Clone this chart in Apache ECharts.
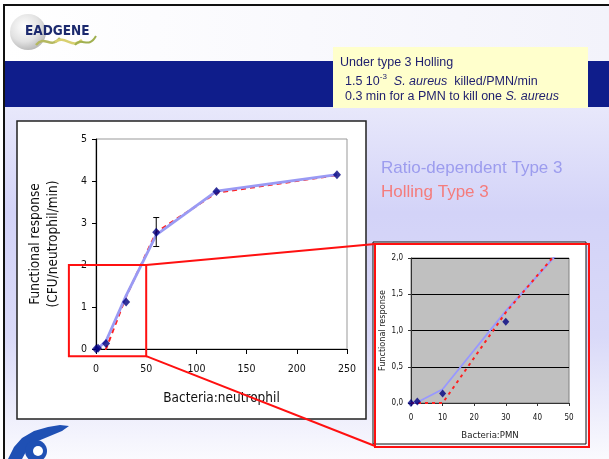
<!DOCTYPE html>
<html><head><meta charset="utf-8">
<script src="https://cdn.jsdelivr.net/npm/echarts@6/dist/echarts.min.js"></script>
<style>html,body{margin:0;padding:0;background:#fff}#c{width:609px;height:459px}</style>
</head><body><div id="c"></div>
<script>
// ---- data ----
const obsX = [0, 2, 10, 30, 60, 120, 240];
const obsY = [0, 0.02, 0.13, 1.12, 2.78, 3.75, 4.15];
const errX = [60];
const errLow = [2.44];
const errHigh = [3.13];
const ratioX = [0, 2, 10, 30, 60, 120, 240];
const ratioY = [0, 0.01, 0.19, 1.27, 2.72, 3.76, 4.15];
const hollX = [0, 2, 10, 30, 60, 120, 240];
const hollY = [0, 0, 0, 1.25, 2.78, 3.72, 4.14];
const mainXTicks = [0, 50, 100, 150, 200, 250];
const mainYTicks = [0, 1, 2, 3, 4, 5];
const insetXTicks = [0, 10, 20, 30, 40, 50];
const insetYTicks = ['0,0', '0,5', '1,0', '1,5', '2,0'];
const legendNames = ['Ratio-dependent Type 3', 'Holling Type 3'];
const zoomBoxX = [-27, 50];
const zoomBoxY = [-0.17, 2];

const FONT = '"DejaVu Sans Condensed", "DejaVu Sans", sans-serif';
const ARIAL = '"Liberation Sans", Arial, sans-serif';
const BLUE = '#9a9af4';
const RED = '#ff2020';
const NAVY = '#000080';

const pairs = (xs, ys) => xs.map((x, i) => [x, ys[i]]);
const step = a => a[1] - a[0];

const chart = echarts.init(document.getElementById('c'), null, {renderer: 'canvas'});

const bg = [
  {type: 'rect', z: -100, shape: {x: 0, y: 0, width: 609, height: 459}, style: {fill: '#ffffff'}},
  {type: 'rect', z: -99, shape: {x: 5, y: 6, width: 604, height: 56},
    style: {fill: new echarts.graphic.LinearGradient(0, 0, 1, 0, [{offset: 0, color: '#ffffff'}, {offset: 1, color: '#f3f3fb'}])}},
  {type: 'rect', z: -99, shape: {x: 5, y: 107, width: 604, height: 352},
    style: {fill: new echarts.graphic.LinearGradient(0, 0, 0, 1, [
      {offset: 0, color: '#e8e8fb'}, {offset: 0.3, color: '#d3d3f8'},
      {offset: 0.65, color: '#d9d9f8'}, {offset: 1, color: '#fafafe'}])}},
  {type: 'rect', z: -98, shape: {x: 5, y: 61, width: 604, height: 46}, style: {fill: '#0f1d8b'}},
  {type: 'rect', z: -98, shape: {x: 3, y: 4, width: 606, height: 2}, style: {fill: '#111'}},
  {type: 'rect', z: -98, shape: {x: 3, y: 4, width: 2, height: 455}, style: {fill: '#111'}},
  // yellow note
  {type: 'rect', z: -97, shape: {x: 333, y: 47, width: 255, height: 61}, style: {fill: '#ffffcc'}},
  {type: 'text', z: 10, x: 340, y: 56, style: {text: 'Under type 3 Holling', font: '12.5px ' + ARIAL, fill: '#1e1e6e'}},
  {type: 'text', z: 10, x: 345, y: 73, style: {
    text: '{n|1.5 10}{s|-3}{n|  }{i|S. aureus}{n|  killed/PMN/min}',
    rich: {n: {fontFamily: ARIAL, fontSize: 12.5, fill: '#1e1e6e', verticalAlign: 'bottom', lineHeight: 15},
           s: {fontFamily: ARIAL, fontSize: 8, fill: '#1e1e6e', verticalAlign: 'top', lineHeight: 15},
           i: {fontFamily: ARIAL, fontSize: 12.5, fontStyle: 'italic', fill: '#1e1e6e', verticalAlign: 'bottom', lineHeight: 15}}}},
  {type: 'text', z: 10, x: 345, y: 90, style: {
    text: '{n|0.3 min for a PMN to kill one }{i|S. aureus}',
    rich: {n: {fontFamily: ARIAL, fontSize: 12.5, fill: '#1e1e6e'}, i: {fontFamily: ARIAL, fontSize: 12.5, fontStyle: 'italic', fill: '#1e1e6e'}}}},
  // EADGENE logo
  {type: 'circle', z: -96, shape: {cx: 28, cy: 32, r: 18},
    style: {fill: new echarts.graphic.RadialGradient(0.4, 0.35, 0.7, [{offset: 0, color: '#ffffff'}, {offset: 0.6, color: '#e2e2e2'}, {offset: 1, color: '#b4b4b4'}])}},
  {type: 'bezierCurve', z: -95, shape: {x1: 36, y1: 45, x2: 60, y2: 38, cpx1: 45, cpy1: 34, cpx2: 50, cpy2: 50}, style: {stroke: '#b4b860', lineWidth: 2.5, fill: null}},
  {type: 'bezierCurve', z: -95, shape: {x1: 55, y1: 42, x2: 82, y2: 40, cpx1: 65, cpy1: 34, cpx2: 72, cpy2: 50}, style: {stroke: '#d8d070', lineWidth: 2.5, fill: null}},
  {type: 'bezierCurve', z: -95, shape: {x1: 75, y1: 45, x2: 96, y2: 36, cpx1: 82, cpy1: 36, cpx2: 88, cpy2: 50}, style: {stroke: '#a0b050', lineWidth: 2, fill: null}},
  {type: 'text', z: -94, x: 25, y: 24, style: {text: 'EADGENE', font: 'bold 13.5px ' + FONT, fill: '#1c2a6e'}},
  // bottom-left logo
  {type: 'polygon', z: -95, shape: {points: [[8, 459], [14, 447], [22, 438], [34, 431], [48, 427], [60, 425], [69, 426], [62, 431], [50, 436], [38, 441], [28, 448], [22, 459]]}, style: {fill: '#1f50b4'}},
  {type: 'circle', z: -95, shape: {cx: 36, cy: 451, r: 11}, style: {fill: '#1f50b4'}},
  {type: 'circle', z: -94, shape: {cx: 38, cy: 451, r: 5}, style: {fill: '#ffffff'}},
  // main panel
  {type: 'rect', z: -90, shape: {x: 17, y: 121, width: 349, height: 298}, style: {fill: '#ffffff', stroke: '#222', lineWidth: 1.5}},
  // inset panel
  {type: 'rect', z: -90, shape: {x: 373, y: 242, width: 213, height: 202}, style: {fill: '#ffffff', stroke: '#111', lineWidth: 1}},
  // legend texts
  {type: 'text', z: 10, x: 381, y: 160, style: {text: legendNames[0], font: '17px ' + ARIAL, fill: '#9c9cee'}},
  {type: 'text', z: 10, x: 381, y: 184, style: {text: legendNames[1], font: '17px ' + ARIAL, fill: '#f47c7c'}}
];

const axisLbl = (size) => ({fontFamily: FONT, fontSize: size, color: '#111'});

const option = {
  animation: false,
  grid: [
    {left: 96, top: 139, width: 251, height: 210, show: true, borderColor: '#999', borderWidth: 1, backgroundColor: 'transparent'},
    {left: 411, top: 258, width: 158, height: 145, show: true, borderColor: '#808080', borderWidth: 1, backgroundColor: '#c0c0c0'}
  ],
  xAxis: [
    {gridIndex: 0, type: 'value', min: mainXTicks[0], max: mainXTicks[mainXTicks.length - 1], interval: step(mainXTicks),
      name: 'Bacteria:neutrophil', nameLocation: 'middle', nameGap: 42,
      nameTextStyle: {fontFamily: FONT, fontSize: 13.5, color: '#111'},
      axisLine: {onZero: false, lineStyle: {color: '#000', width: 1}},
      axisTick: {show: true, length: 5, lineStyle: {color: '#000'}},
      axisLabel: Object.assign({margin: 15}, axisLbl(10.5)), splitLine: {show: false}},
    {gridIndex: 1, type: 'value', min: insetXTicks[0], max: insetXTicks[insetXTicks.length - 1], interval: step(insetXTicks),
      name: 'Bacteria:PMN', nameLocation: 'middle', nameGap: 28,
      nameTextStyle: {fontFamily: FONT, fontSize: 9.5, color: '#222'},
      axisLine: {onZero: false, lineStyle: {color: '#333', width: 1}},
      axisTick: {show: true, length: 3, lineStyle: {color: '#333'}},
      axisLabel: Object.assign({margin: 11}, axisLbl(8)), splitLine: {show: false}}
  ],
  yAxis: [
    {gridIndex: 0, type: 'value', min: mainYTicks[0], max: mainYTicks[mainYTicks.length - 1], interval: step(mainYTicks),
      name: 'Functional response\n(CFU/neutrophil/min)', nameLocation: 'middle', nameGap: 34, nameRotate: 90,
      nameTextStyle: {fontFamily: FONT, fontSize: 13.5, color: '#111', lineHeight: 18, align: 'center'},
      axisLine: {show: true, onZero: false, lineStyle: {color: '#000', width: 1.2}},
      axisTick: {show: true, length: 4, lineStyle: {color: '#000'}},
      axisLabel: Object.assign({margin: 9}, axisLbl(10.5)), splitLine: {show: false}},
    {gridIndex: 1, type: 'value', min: 0, max: 2, interval: 0.5,
      name: 'Functional response', nameLocation: 'middle', nameGap: 24, nameRotate: 90,
      nameTextStyle: {fontFamily: FONT, fontSize: 9, color: '#222'},
      axisLine: {show: true, onZero: false, lineStyle: {color: '#333', width: 1}},
      axisTick: {show: true, length: 3, lineStyle: {color: '#333'}},
      axisLabel: Object.assign({margin: 8, formatter: v => insetYTicks[Math.round(v / 0.5)]}, axisLbl(8)),
      splitLine: {show: true, lineStyle: {color: '#000', width: 1}}}
  ],
  series: [
    {type: 'line', name: legendNames[1], xAxisIndex: 0, yAxisIndex: 0, data: pairs(hollX, hollY), clip: false,
      symbol: 'none', lineStyle: {color: RED, width: 2, type: [5, 4]}, z: 2},
    {type: 'line', name: legendNames[0], xAxisIndex: 0, yAxisIndex: 0, data: pairs(ratioX, ratioY), clip: false,
      symbol: 'none', lineStyle: {color: BLUE, width: 2.8}, z: 3},
    {type: 'custom', xAxisIndex: 0, yAxisIndex: 0, z: 4,
      data: errX.map((x, i) => [x, errLow[i], errHigh[i]]),
      encode: {x: 0, y: [1, 2]},
      renderItem: (params, api) => {
        const lo = api.coord([api.value(0), api.value(1)]);
        const hi = api.coord([api.value(0), api.value(2)]);
        const w = 3;
        const st = {stroke: '#000', lineWidth: 1};
        return {type: 'group', children: [
          {type: 'line', shape: {x1: lo[0], y1: lo[1], x2: hi[0], y2: hi[1]}, style: st},
          {type: 'line', shape: {x1: lo[0] - w, y1: lo[1], x2: lo[0] + w, y2: lo[1]}, style: st},
          {type: 'line', shape: {x1: hi[0] - w, y1: hi[1], x2: hi[0] + w, y2: hi[1]}, style: st}
        ]};
      }},
    {type: 'scatter', xAxisIndex: 0, yAxisIndex: 0, data: pairs(obsX, obsY), symbol: 'diamond', symbolSize: [8, 9],
      itemStyle: {color: NAVY}, clip: false, z: 5},
    {type: 'line', xAxisIndex: 1, yAxisIndex: 1, data: pairs(ratioX, ratioY), clip: true,
      symbol: 'none', lineStyle: {color: '#9898ff', width: 1.8}, z: 2},
    {type: 'line', xAxisIndex: 1, yAxisIndex: 1, data: pairs(hollX, hollY), clip: true,
      symbol: 'none', lineStyle: {color: RED, width: 2, type: [3, 4]}, z: 3},
    {type: 'scatter', xAxisIndex: 1, yAxisIndex: 1, data: pairs(obsX, obsY), symbol: 'diamond', symbolSize: [7, 8],
      itemStyle: {color: NAVY}, clip: true, z: 5}
  ],
  graphic: {elements: bg}
};
chart.setOption(option);

// zoom indicator built from data coordinates of the main grid
const p0 = chart.convertToPixel({gridIndex: 0}, [zoomBoxX[0], zoomBoxY[1]]);
const p1 = chart.convertToPixel({gridIndex: 0}, [zoomBoxX[1], zoomBoxY[0]]);
const overlay = [
  {type: 'rect', z: 50, shape: {x: p0[0], y: p0[1], width: p1[0] - p0[0], height: p1[1] - p0[1]}, style: {fill: null, stroke: '#ff1010', lineWidth: 2}},
  {type: 'rect', z: 50, shape: {x: 375, y: 244, width: 214, height: 203}, style: {fill: null, stroke: '#ff1010', lineWidth: 2}},
  {type: 'line', z: 50, shape: {x1: p1[0], y1: p0[1], x2: 375, y2: 244}, style: {stroke: '#ff1010', lineWidth: 2}},
  {type: 'line', z: 50, shape: {x1: p1[0], y1: p1[1], x2: 375, y2: 446}, style: {stroke: '#ff1010', lineWidth: 2}}
];
chart.setOption({graphic: {elements: bg.concat(overlay)}}, {replaceMerge: ['graphic']});
</script></body></html>
